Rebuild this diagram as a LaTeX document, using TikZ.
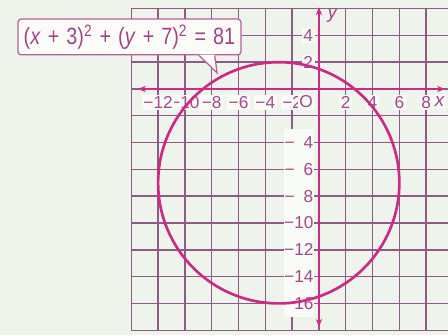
\documentclass[tikz,border=0pt]{standalone}
\usepackage{fontspec}
\setmainfont{Liberation Sans}
\newfontfamily\eqfont[FakeStretch=0.84]{Liberation Sans}
\usetikzlibrary{arrows.meta, calc}
\definecolor{paper}{HTML}{EEF4EB}
\definecolor{gridline}{HTML}{8E5A86}
\definecolor{curve}{HTML}{CC2A85}
\definecolor{ticktext}{HTML}{A2488B}
\definecolor{eqtext}{HTML}{A0448A}
\definecolor{labelbg}{HTML}{F9FBF7}
\definecolor{boxfill}{HTML}{FBFCF8}
\definecolor{boxedge}{HTML}{B8609A}
\newcommand{\eqgap}{\hspace{0.3em}}

\begin{document}
\begin{tikzpicture}[x=0.3cm, y=0.3cm,
    graph grid/.style={draw=gridline, line width=0.9pt},
    axis line/.style={draw=curve, line width=1.2pt, {Stealth[length=5pt,width=4pt]}-{Stealth[length=5pt,width=4pt]}},
    curve line/.style={draw=curve, line width=1.7pt},
    tick label/.style={font=\fontsize{11}{13}\selectfont, text=ticktext, fill=labelbg, inner sep=1pt},
    y strip/.style={tick label, anchor=east, minimum height=0.6cm, inner xsep=0.5pt},
    axis name/.style={font=\fontsize{12}{14}\selectfont\itshape, text=ticktext, fill=labelbg, inner sep=1pt},
    eq box/.style={draw=boxedge, line width=0.8pt, fill=boxfill, rounded corners=2pt, minimum width=4.99cm, minimum height=0.8cm, inner sep=2pt, text=eqtext, font=\eqfont\fontsize{15}{17}\selectfont},
    box edge/.style={draw=boxedge, line width=0.8pt},
]

% Background and page size
\fill[paper] (-23.8,-18.36) rectangle (9.63,6.64);
\useasboundingbox (-23.8,-18.36) rectangle (9.63,6.64);

% Grid
\draw[graph grid, step=2] (-14,-18) grid (9.63,6);

% Axes
\draw[axis line] (-13.5,0) -- (9.4,0);
\draw[axis line] (0,-17.75) -- (0,6.1);

% x tick labels
\foreach \v in {2,4,...,12}
    \node[tick label] (xl-\v) at (-\v,-1) {−\v};
\foreach \v in {2,4,6,8}
    \node[tick label] (xl\v) at (\v,-1) {\v};
\node[tick label] (origin) at (-0.95,-0.97) {O};
\node[axis name] (xname) at (9.0,-0.97) {x};

% y tick labels
\foreach \v in {2,4}
    \node[tick label, anchor=east] (yl\v) at (-0.3,\v) {\v};
\foreach \v in {4,6,...,16}
    \node[y strip] (yl-\v) at (-0.35,-\v) {\makebox[0.64cm]{−\hfill\v}};
\node[axis name, fill=none] (yname) at (1.0,5.5) {y};

% Circle
\coordinate (center) at (-3,-7);
\draw[curve line] (center) circle[radius=9];

% Equation callout
\node[eq box] (eq) at (-14.14,3.88)
    {(\textit{x}\eqgap+\eqgap3)\textsuperscript{2}\eqgap+\eqgap(\textit{y}\eqgap+\eqgap7)\textsuperscript{2}\eqgap=\eqgap81};
\coordinate (tip) at (-7.6,1.2);
\fill[boxfill] ([xshift=-0.95cm, yshift=0.6pt]eq.south east) -- (tip) -- ([xshift=-0.6cm, yshift=0.6pt]eq.south east) -- cycle;
\draw[box edge] ([xshift=-0.95cm]eq.south east) -- (tip) -- ([xshift=-0.6cm]eq.south east);

\end{tikzpicture}
\end{document}
